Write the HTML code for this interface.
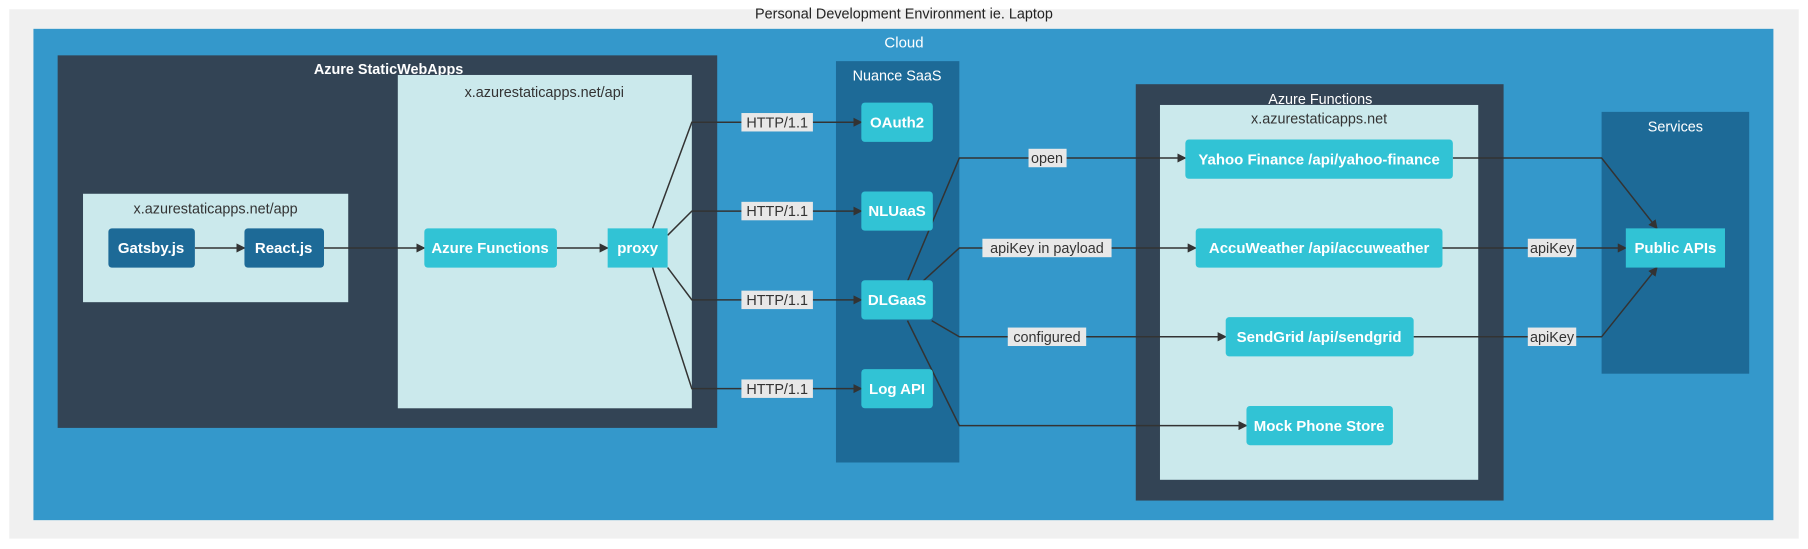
<!DOCTYPE html>
<html><head><meta charset="utf-8"><style>
html,body{margin:0;padding:0;background:#fff;}
svg{display:block;font-family:"Liberation Sans","DejaVu Sans",sans-serif;}
</style></head><body>
<svg width="1808" height="549" viewBox="0 0 1568 476" preserveAspectRatio="none" xmlns="http://www.w3.org/2000/svg">
<defs><marker id="a" markerWidth="8" markerHeight="8" refX="7" refY="4" orient="auto" markerUnits="userSpaceOnUse"><path d="M0,0 L8,4 L0,8 z" fill="#333"/></marker></defs>
<rect x="8" y="8" width="1552" height="459" fill="#f0f0f0"/>
<text x="784" y="16" font-size="12.5" text-anchor="middle" fill="#222">Personal Development Environment ie. Laptop</text>
<rect x="29" y="25" width="1509" height="426" fill="#3498cb"/>
<text x="784" y="41" font-size="13" text-anchor="middle" fill="#fff">Cloud</text>
<rect x="50" y="48" width="572" height="323" fill="#334455"/>
<text x="337" y="64" font-size="12.5" font-weight="bold" fill="#fff" text-anchor="middle">Azure StaticWebApps</text>
<rect x="345" y="65" width="255" height="289" fill="#cbe9ec"/>
<text x="472" y="84" font-size="12.5" text-anchor="middle" fill="#333">x.azurestaticapps.net/api</text>
<rect x="72" y="168" width="230" height="94" fill="#cbe9ec"/>
<text x="187" y="185" font-size="12.5" text-anchor="middle" fill="#333">x.azurestaticapps.net/app</text>
<rect x="725" y="53" width="107" height="348" fill="#1d6a97"/>
<text x="778" y="70" font-size="12.5" text-anchor="middle" fill="#fff">Nuance SaaS</text>
<rect x="985" y="73" width="319" height="361" fill="#334455"/>
<text x="1145" y="90" font-size="12.5" text-anchor="middle" fill="#fff">Azure Functions</text>
<rect x="1006" y="91" width="276" height="325" fill="#cbe9ec"/>
<text x="1144" y="107" font-size="12.5" text-anchor="middle" fill="#333">x.azurestaticapps.net</text>
<rect x="1389" y="97" width="128" height="227" fill="#1d6a97"/>
<text x="1453" y="114" font-size="12.5" text-anchor="middle" fill="#fff">Services</text>
<g stroke="#333" stroke-width="1.3" fill="none">
<path d="M169,215 H212" marker-end="url(#a)"/>
<path d="M281,215 H368" marker-end="url(#a)"/>
<path d="M483,215 H527" marker-end="url(#a)"/>
<path d="M566,198 L600,106 H747" marker-end="url(#a)"/>
<path d="M579,204 L600,183 H747" marker-end="url(#a)"/>
<path d="M579,232 L600,260 H747" marker-end="url(#a)"/>
<path d="M566,232 L600,337 H747" marker-end="url(#a)"/>
<path d="M787,244 L832,137 H1028" marker-end="url(#a)"/>
<path d="M798,246 L832,215 H1037" marker-end="url(#a)"/>
<path d="M808,278 L832,292 H1063" marker-end="url(#a)"/>
<path d="M787,278 L832,369 H1081" marker-end="url(#a)"/>
<path d="M1260,137 H1389 L1437,198" marker-end="url(#a)"/>
<path d="M1251,215 H1410" marker-end="url(#a)"/>
<path d="M1226,292 H1389 L1437,232" marker-end="url(#a)"/>
</g>
<g font-size="12.5" fill="#333" text-anchor="middle">
<rect x="643" y="98" width="62" height="16" fill="#e8e8e8"/><text x="674" y="110.5">HTTP/1.1</text>
<rect x="643" y="175" width="62" height="16" fill="#e8e8e8"/><text x="674" y="187.5">HTTP/1.1</text>
<rect x="643" y="252" width="62" height="16" fill="#e8e8e8"/><text x="674" y="264.5">HTTP/1.1</text>
<rect x="643" y="329" width="62" height="16" fill="#e8e8e8"/><text x="674" y="341.5">HTTP/1.1</text>
<rect x="892" y="129" width="33" height="16" fill="#e8e8e8"/><text x="908" y="141.5">open</text>
<rect x="852" y="207" width="112" height="16" fill="#e8e8e8"/><text x="908" y="219.5">apiKey in payload</text>
<rect x="874" y="284" width="68" height="16" fill="#e8e8e8"/><text x="908" y="296.5">configured</text>
<rect x="1325" y="207" width="42" height="16" fill="#e8e8e8"/><text x="1346" y="219.5">apiKey</text>
<rect x="1325" y="284" width="42" height="16" fill="#e8e8e8"/><text x="1346" y="296.5">apiKey</text>
</g>
<g font-size="13" fill="#fff" text-anchor="middle" font-weight="bold">
<rect x="94" y="198" width="75" height="34" rx="3" fill="#1d6a97"/><text x="131" y="219.5">Gatsby.js</text>
<rect x="212" y="198" width="69" height="34" rx="3" fill="#1d6a97"/><text x="246" y="219.5">React.js</text>
<rect x="368" y="198" width="115" height="34" rx="3" fill="#31c3d5"/><text x="425" y="219.5">Azure Functions</text>
<rect x="527" y="198" width="52" height="34" fill="#31c3d5"/><text x="553" y="219.5">proxy</text>
<rect x="747" y="89" width="62" height="34" rx="3" fill="#31c3d5"/><text x="778" y="110.5">OAuth2</text>
<rect x="747" y="166" width="62" height="34" rx="3" fill="#31c3d5"/><text x="778" y="187.5">NLUaaS</text>
<rect x="747" y="243" width="62" height="34" rx="3" fill="#31c3d5"/><text x="778" y="264.5">DLGaaS</text>
<rect x="747" y="320" width="62" height="34" rx="3" fill="#31c3d5"/><text x="778" y="341.5">Log API</text>
<rect x="1028" y="121" width="232" height="34" rx="3" fill="#31c3d5"/><text x="1144" y="142.5">Yahoo Finance /api/yahoo-finance</text>
<rect x="1037" y="198" width="214" height="34" rx="3" fill="#31c3d5"/><text x="1144" y="219.5">AccuWeather /api/accuweather</text>
<rect x="1063" y="275" width="163" height="34" rx="3" fill="#31c3d5"/><text x="1144" y="296.5">SendGrid /api/sendgrid</text>
<rect x="1081" y="352" width="127" height="34" rx="3" fill="#31c3d5"/><text x="1144" y="373.5">Mock Phone Store</text>
<rect x="1410" y="198" width="86" height="34" fill="#31c3d5"/><text x="1453" y="219.5">Public APIs</text>
</g>
</svg>
</body></html>
